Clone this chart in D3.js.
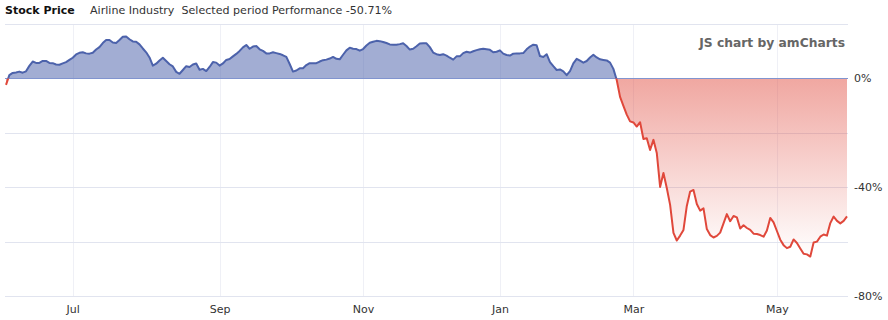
<!DOCTYPE html>
<html>
<head>
<meta charset="utf-8">
<script src="https://cdn.jsdelivr.net/npm/d3@7"></script>
<style>
  body { margin: 0; background: #fff; }
  svg { display: block; font-family: "DejaVu Sans", Verdana, sans-serif; }
</style>
</head>
<body>
<div id="chart"></div>
<script>
const title = 'Stock Price'
const subtitle = 'Airline Industry  Selected period Performance -50.71%'
const credit = 'JS chart by amCharts'

// trading days: weekdays minus market holidays
const firstDay = '2019-06-03'
const lastDay = '2020-06-02'
const holidays = ['2019-07-04', '2019-09-02', '2019-11-28', '2019-12-25', '2020-01-01',
  '2020-01-20', '2020-02-17', '2020-04-10', '2020-05-25']

// performance vs. first day, % (one value per trading day)
const perf = [
  -2.4, 1.2, 2.0, 2.2, 2.5, 2.1, 2.6, 4.6, 6.2, 5.7, 5.7, 6.4, 6.4, 5.7, 5.6, 5.1, 5.0, 5.5, 6.0, 6.8,
  7.6, 8.8, 9.4, 9.6, 9.2, 9.1, 9.4, 10.6, 11.5, 13.0, 14.1, 14.1, 13.2, 13.0, 14.1, 15.3, 15.4, 14.4, 13.6, 13.5,
  12.5, 11.0, 9.6, 7.7, 4.7, 5.4, 6.6, 7.6, 6.4, 5.2, 4.4, 2.4, 1.7, 3.1, 4.5, 4.2, 5.1, 5.5, 3.2, 3.5,
  2.7, 4.2, 6.0, 5.8, 4.7, 5.5, 6.8, 7.1, 8.1, 9.0, 10.1, 11.4, 12.3, 10.9, 11.7, 11.9, 10.7, 10.1, 9.2, 9.2,
  9.6, 9.3, 9.0, 8.5, 7.9, 5.3, 2.5, 2.9, 3.7, 3.7, 4.9, 5.6, 5.6, 5.6, 6.2, 6.7, 6.9, 7.3, 7.9, 7.2,
  7.0, 8.7, 10.3, 11.3, 10.9, 10.8, 10.2, 10.8, 12.1, 13.1, 13.5, 13.8, 13.7, 13.4, 13.0, 12.5, 12.4, 12.4, 12.6, 12.9,
  11.9, 10.6, 10.9, 11.8, 12.8, 12.9, 12.9, 11.5, 9.5, 8.9, 8.6, 8.9, 8.4, 7.6, 6.9, 8.1, 8.1, 9.3, 9.8, 9.5,
  10.0, 10.4, 10.7, 10.9, 10.7, 10.5, 9.6, 9.8, 10.3, 9.1, 8.6, 8.4, 9.1, 9.2, 9.2, 9.3, 10.7, 11.7, 12.4, 12.2,
  8.2, 7.9, 8.9, 6.0, 4.5, 3.1, 3.3, 2.6, 1.2, 2.7, 5.5, 7.2, 6.5, 5.8, 6.4, 7.7, 8.7, 7.7, 7.0, 6.8,
  6.6, 5.8, 3.5, -0.6, -6.8, -10.1, -13.3, -15.8, -16.2, -17.7, -16.1, -22.3, -22.0, -26.3, -22.6, -27.4, -39.9, -34.8, -40.3, -46.5,
  -56.8, -59.6, -57.8, -55.7, -46.9, -41.6, -41.0, -46.2, -48.6, -47.8, -55.4, -57.6, -58.5, -57.9, -56.7, -53.3, -49.9, -52.5, -50.6, -51.1,
  -55.2, -54.0, -55.0, -55.7, -57.1, -57.2, -57.6, -58.2, -55.9, -51.3, -52.9, -56.1, -59.3, -61.3, -62.4, -61.9, -59.2, -60.5, -62.5, -64.5,
  -64.7, -65.5, -60.3, -60.0, -58.2, -57.4, -57.8, -53.2, -50.8, -52.4, -53.3, -52.4, -50.7,
]

const yTicks = [20, 0, -20, -40, -60, -80]
const yLabels = [0, -40, -80]

const width = 888, height = 320
const plot = {left: 5, right: 848, top: 24, bottom: 296}
const colors = {up: '#4c62ab', down: '#e0483b', grid: '#e1e4ef', vgrid: '#eff0f6', zero: '#8194cf'}

const parse = d3.timeParse('%Y-%m-%d')
const fmt = d3.timeFormat('%Y-%m-%d')
const holidaySet = new Set(holidays)
const dates = d3.timeDay.range(parse(firstDay), d3.timeDay.offset(parse(lastDay), 1))
  .filter((d) => d.getDay() !== 0 && d.getDay() !== 6 && !holidaySet.has(fmt(d)))

const data = dates.map((d, i) => ({date: d, i: i, v: perf[i]}))

const x = d3.scaleLinear().domain([0, data.length - 1]).range([plot.left + 1, plot.right - 1])
const y = d3.scaleLinear().domain([-80, 20]).range([plot.bottom, plot.top])

// first trading day of every other month
const monthTicks = data.filter((d, i) => i > 0 && d.date.getMonth() !== data[i - 1].date.getMonth() && d.date.getMonth() % 2 === 0)

const svg = d3.select('#chart').append('svg').attr('width', width).attr('height', height)
const defs = svg.append('defs')

const y0 = y(0)
defs.append('clipPath').attr('id', 'clip-up')
  .append('rect').attr('x', 0).attr('y', 0).attr('width', width).attr('height', y0)
defs.append('clipPath').attr('id', 'clip-down')
  .append('rect').attr('x', 0).attr('y', y0).attr('width', width).attr('height', height - y0)

const grad = defs.append('linearGradient').attr('id', 'grad-down')
  .attr('gradientUnits', 'userSpaceOnUse')
  .attr('x1', 0).attr('x2', 0).attr('y1', y0).attr('y2', y(d3.min(perf)))
grad.append('stop').attr('offset', 0).attr('stop-color', colors.down).attr('stop-opacity', 0.48)
grad.append('stop').attr('offset', 1).attr('stop-color', colors.down).attr('stop-opacity', 0)

// grid
svg.append('g').selectAll('line')
  .data(monthTicks)
  .join('line')
  .attr('x1', (d) => Math.round(x(d.i)) + 0.5).attr('x2', (d) => Math.round(x(d.i)) + 0.5)
  .attr('y1', plot.top).attr('y2', plot.bottom)
  .attr('stroke', colors.vgrid)

svg.append('g').selectAll('line')
  .data(yTicks)
  .join('line')
  .attr('x1', plot.left).attr('x2', plot.right)
  .attr('y1', (d) => Math.round(y(d)) + 0.5).attr('y2', (d) => Math.round(y(d)) + 0.5)
  .attr('stroke', colors.grid)

// areas + line, split at zero
const area = d3.area().x((d) => x(d.i)).y0(y0).y1((d) => y(d.v))
const line = d3.line().x((d) => x(d.i)).y((d) => y(d.v))

svg.append('path').datum(data).attr('d', area)
  .attr('fill', colors.up).attr('fill-opacity', 0.52).attr('clip-path', 'url(#clip-up)')
svg.append('path').datum(data).attr('d', area)
  .attr('fill', 'url(#grad-down)').attr('clip-path', 'url(#clip-down)')

svg.append('line')
  .attr('x1', plot.left).attr('x2', plot.right)
  .attr('y1', Math.round(y0) + 0.5).attr('y2', Math.round(y0) + 0.5)
  .attr('stroke', colors.zero)

svg.append('path').datum(data).attr('d', line)
  .attr('fill', 'none').attr('stroke', colors.up).attr('stroke-width', 2)
  .attr('stroke-linejoin', 'round').attr('clip-path', 'url(#clip-up)')
svg.append('path').datum(data).attr('d', line)
  .attr('fill', 'none').attr('stroke', colors.down).attr('stroke-width', 2)
  .attr('stroke-linejoin', 'round').attr('clip-path', 'url(#clip-down)')

// axes
const xAxis = d3.axisBottom(x).tickValues(monthTicks.map((d) => d.i))
  .tickFormat((i) => d3.timeFormat('%b')(dates[i])).tickSize(0).tickPadding(9)
svg.append('g').attr('transform', `translate(0,${plot.bottom})`).call(xAxis)
  .call((g) => g.select('.domain').remove())
  .selectAll('text').attr('font-size', 11).attr('fill', '#333').attr('font-family', '"DejaVu Sans", Verdana, sans-serif')

const yAxis = d3.axisRight(y).tickValues(yLabels).tickFormat((d) => d + '%').tickSize(0).tickPadding(6)
svg.append('g').attr('transform', `translate(${plot.right},0)`).call(yAxis)
  .call((g) => g.select('.domain').remove())
  .selectAll('text').attr('font-size', 11).attr('fill', '#333').attr('font-family', '"DejaVu Sans", Verdana, sans-serif')

// titles
svg.append('text').attr('x', 5).attr('y', 14)
  .attr('font-size', 11).attr('font-weight', 'bold').attr('fill', '#111').text(title)
svg.append('text').attr('x', 90).attr('y', 14)
  .attr('font-size', 11.1).attr('fill', '#333').attr('xml:space', 'preserve').text(subtitle)
svg.append('text').attr('x', 845).attr('y', 47).attr('text-anchor', 'end')
  .attr('font-size', 12.3).attr('font-weight', 'bold').attr('fill', '#666').text(credit)
</script>
</body>
</html>
